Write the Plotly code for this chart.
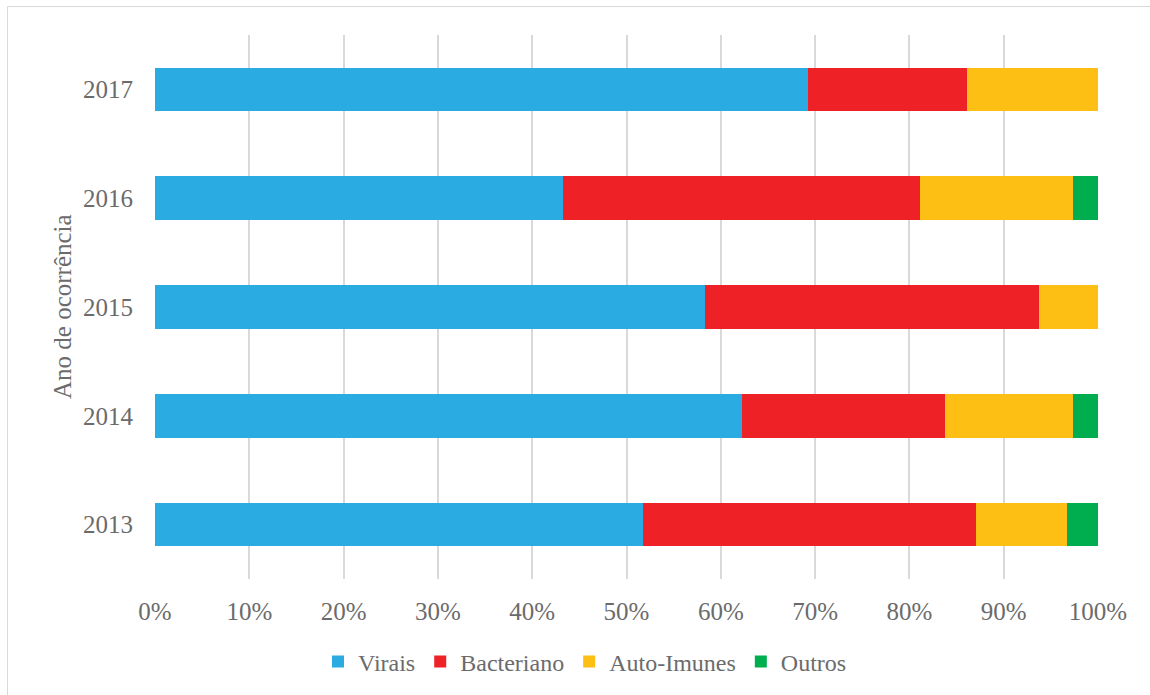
import plotly.graph_objects as go

# Share of cases by year and aetiology group (%)
anos = ["2013", "2014", "2015", "2016", "2017"]
virais = [51.7, 62.2, 58.3, 43.3, 69.2]
bacteriano = [35.4, 21.6, 35.4, 37.8, 16.9]
auto_imunes = [9.6, 13.5, 6.3, 16.2, 13.9]
outros = [3.3, 2.7, 0.0, 2.7, 0.0]
x_ticks = list(range(0, 101, 10))

series = [
    ("Virais", virais, "#2AACE2"),
    ("Bacteriano", bacteriano, "#EE2127"),
    ("Auto-Imunes", auto_imunes, "#FDBF13"),
    ("Outros", outros, "#00AE4F"),
]

FONT = "Liberation Serif"
GREY = "#6b6b6b"

fig = go.Figure()
for name, vals, color in series:
    fig.add_trace(go.Bar(
        y=anos, x=vals, name=name, orientation="h",
        marker=dict(color=color, line=dict(width=0)),
    ))

W, H = 1150, 695
L, R, T, B = 155, 52, 35, 115
pw, ph = W - L - R, H - T - B

fig.update_layout(
    width=W, height=H,
    margin=dict(l=L, r=R, t=T, b=B, pad=0),
    barmode="stack", bargap=0.6,
    plot_bgcolor="white", paper_bgcolor="white",
    font=dict(family=FONT, size=25, color=GREY),
    showlegend=True,
    legend=dict(
        orientation="h", x=(585 - L) / pw, xanchor="center",
        y=-(662 - (H - B)) / ph, yanchor="middle",
        font=dict(family=FONT, size=24, color=GREY),
        itemwidth=30, traceorder="normal",
    ),
    xaxis=dict(
        range=[0, 100], tickvals=x_ticks,
        ticktext=[f"{v}%" for v in x_ticks],
        showgrid=True, gridcolor="#d9d9d9", gridwidth=2,
        zeroline=False, showline=False, ticks="",
        ticklabelstandoff=15,
        tickfont=dict(family=FONT, size=25, color=GREY),
        fixedrange=True,
    ),
    yaxis=dict(
        categoryorder="array", categoryarray=anos,
        showgrid=False, zeroline=False, showline=False, ticks="",
        ticklabelstandoff=21,
        tickfont=dict(family=FONT, size=25, color=GREY),
        fixedrange=True,
    ),
    annotations=[dict(
        text="Ano de ocorrência", textangle=-90,
        xref="paper", yref="paper",
        x=(62 - L) / pw, y=0.5, xanchor="center", yanchor="middle",
        showarrow=False, font=dict(family=FONT, size=25, color=GREY),
    )],
    shapes=[dict(
        type="rect", xref="paper", yref="paper", layer="below",
        x0=(7.5 - L) / pw, x1=(1160 - L) / pw,
        y0=-(705 - (H - B)) / ph, y1=((H - B) - 6.5) / ph,
        line=dict(color="#d9d9d9", width=1), fillcolor="rgba(0,0,0,0)",
    )],
)

fig.write_html("out.html")
